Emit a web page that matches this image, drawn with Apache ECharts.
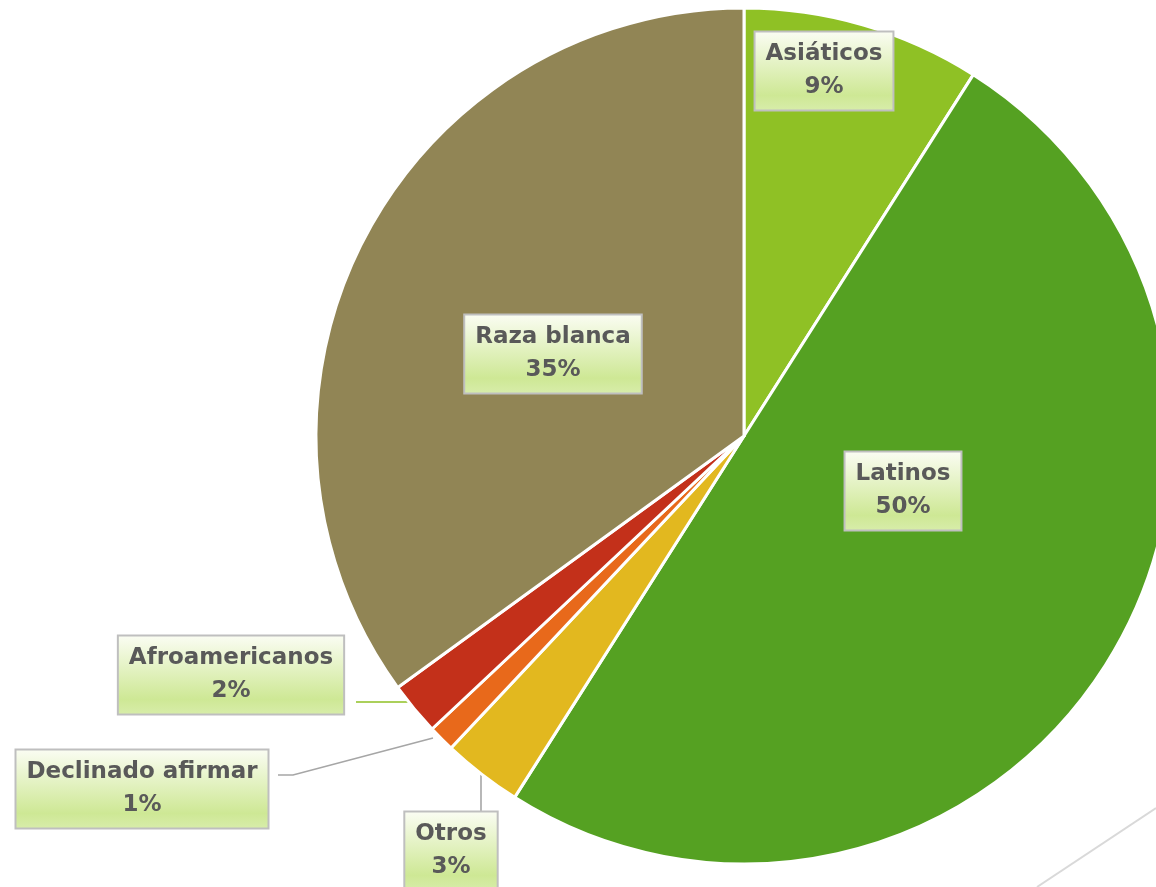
<!DOCTYPE html>
<html>
<head>
<meta charset="utf-8">
<script src="https://cdn.jsdelivr.net/npm/echarts@6/dist/echarts.min.js"></script>
<style>
html,body{margin:0;padding:0;background:#fff;}
#chart{width:1156px;height:887px;}
</style>
</head>
<body>
<div id="chart"></div>
<script>
// Data
var categories = ['Asiáticos', 'Latinos', 'Otros', 'Declinado afirmar', 'Afroamericanos', 'Raza blanca'];
var values = [9, 50, 3, 1, 2, 35];
var colors = ['#8fc125', '#55a122', '#e2b81f', '#e8691b', '#c3301a', '#918555'];
var outsideLabels = ['Otros', 'Declinado afirmar', 'Afroamericanos'];

// Label layout (box centres and leader lines), in pixels
var labelPlace = {
  'Asiáticos': {x: 824, y: 71},
  'Latinos': {x: 903, y: 491},
  'Raza blanca': {x: 553, y: 354},
  'Afroamericanos': {x: 231, y: 675, line: [[422, 702], [389, 702], [356, 702]], lineColor: '#8fc125'},
  'Declinado afirmar': {x: 142, y: 789, line: [[433, 738], [293, 775], [278, 775]], lineColor: '#a6a6a6'},
  'Otros': {x: 451, y: 851, line: [[481, 775], [481, 795], [481, 813]], lineColor: '#a6a6a6'}
};

var chart = echarts.init(document.getElementById('chart'));
var boxBg = {
  type: 'linear', x: 0, y: 0, x2: 0, y2: 1,
  colorStops: [
    {offset: 0, color: '#fbfdf4'},
    {offset: 0.8, color: '#cee895'},
    {offset: 1, color: '#d8edab'}
  ]
};
var data = categories.map(function (name, i) {
  var outside = outsideLabels.indexOf(name) >= 0;
  var p = labelPlace[name];
  return {
    name: name,
    value: values[i],
    itemStyle: {color: colors[i]},
    label: {position: outside ? 'outside' : 'inside'},
    labelLine: {show: outside, lineStyle: {color: p.lineColor || '#a6a6a6', width: 1.6}}
  };
});

chart.setOption({
  animation: false,
  backgroundColor: '#ffffff',
  graphic: [{
    type: 'line',
    shape: {x1: 1156, y1: 808, x2: 1037, y2: 887},
    style: {stroke: '#d9d9d9', lineWidth: 2},
    z: 0
  }],
  series: [{
    type: 'pie',
    center: [744, 436],
    radius: [0, 428],
    startAngle: 90,
    clockwise: true,
    avoidLabelOverlap: false,
    itemStyle: {borderColor: '#ffffff', borderWidth: 3},
    label: {
      show: true,
      formatter: '{b}\n{c}%',
      fontFamily: '"DejaVu Sans", sans-serif',
      fontWeight: 'bold',
      fontSize: 23,
      lineHeight: 33,
      color: '#595959',
      align: 'center',
      backgroundColor: boxBg,
      borderColor: '#bfbfbf',
      borderWidth: 2,
      padding: [6, 10, 5, 10]
    },
    labelLine: {show: true, length: 20, length2: 20},
    labelLayout: function (params) {
      var name = categories[params.dataIndex];
      var p = labelPlace[name];
      var out = {x: p.x, y: p.y, align: 'center', verticalAlign: 'middle'};
      if (p.line) out.labelLinePoints = p.line;
      return out;
    },
    data: data
  }]
});
</script>
</body>
</html>
